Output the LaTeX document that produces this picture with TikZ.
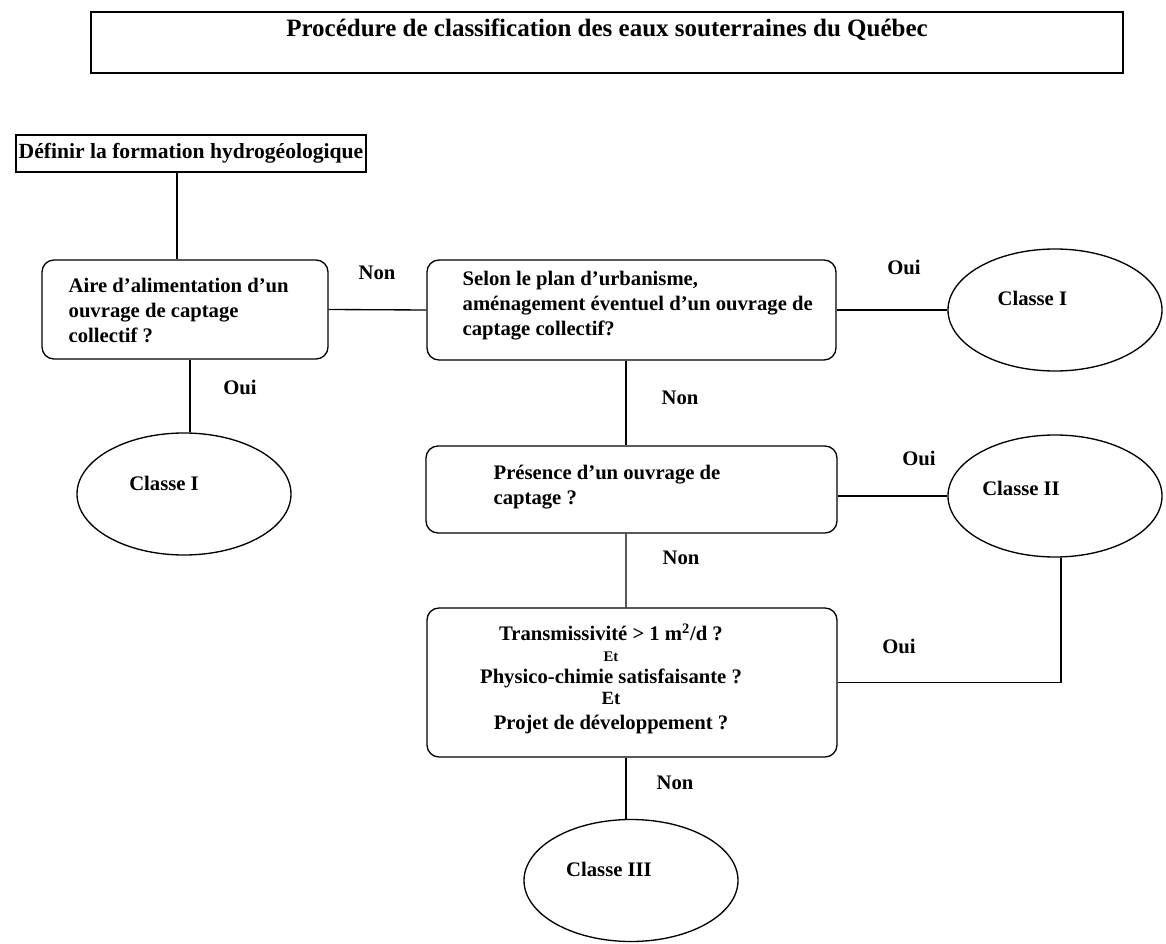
\documentclass[tikz,border=0pt]{standalone}
\usepackage{fontspec}
\setmainfont{Liberation Serif}
\usetikzlibrary{shapes.geometric}

\begin{document}
\begin{tikzpicture}[x=0.75pt, y=-0.75pt, line width=1pt,
  every node/.style={font=\fontsize{15.5}{18.75}\selectfont\bfseries},
  question/.style={draw, rounded corners=9pt, inner sep=0pt},
  classe/.style={draw, ellipse, inner sep=0pt, minimum width=160.5pt, minimum height=91.5pt},
  reponse/.style={inner sep=0pt}]
\useasboundingbox (0,0) rectangle (1166,944);

% Titre
\node[draw, line width=1.6pt, inner sep=0pt, minimum width=774pt, minimum height=45.75pt] (cadre) at (607,42.5) {};
\node[font=\fontsize{18.75}{22}\selectfont\bfseries] (titre) at (607,30) {Procédure de classification des eaux souterraines du Québec};

% Boites
\node[draw, inner sep=0pt, minimum width=262.5pt, minimum height=27.75pt, font=\fontsize{16.2}{19}\selectfont\bfseries] (definir) at (191,153.5) {Définir la formation hydrogéologique};

\node[question, minimum width=214.5pt, minimum height=74.25pt] (aire) at (185,309.5) {};
\node[anchor=west, align=left, inner sep=0pt] (airetxt) at (68,310) {Aire d’alimentation d’un\\ouvrage de captage\\collectif ?};

\node[question, minimum width=306.75pt, minimum height=75pt] (plan) at (631.5,310) {};
\node[anchor=west, align=left, inner sep=0pt] (plantxt) at (462,306) {Selon le plan d’urbanisme,\\aménagement éventuel d’un ouvrage de\\captage collectif?};

\node[question, minimum width=308.25pt, minimum height=65.25pt] (presence) at (631.5,489.5) {};
\node[anchor=west, align=left, inner sep=0pt] (presencetxt) at (493,487.5) {Présence d’un ouvrage de\\captage ?};

\node[question, minimum width=307.5pt, minimum height=111.75pt] (transmis) at (632,682.5) {};
\node[align=center, inner sep=0pt] (transmistxt) at (611,679) {Transmissivité > 1 m\textsuperscript{2}/d ?\\[-3pt]
  {\fontsize{11}{13}\selectfont Et}\\[-2pt]
  Physico-chimie satisfaisante ?\\[-3pt]
  {\fontsize{14}{16}\selectfont Et}\\[0pt]
  Projet de développement ?};

% Classes
\node[classe, label={[xshift=-15pt, yshift=8pt]center:Classe I}] (classeA) at (184,494) {};
\node[classe, label={[xshift=-17pt, yshift=9pt]center:Classe I}] (classeB) at (1055,310) {};
\node[classe, label={[xshift=-25.5pt, yshift=6pt]center:Classe II}] (classeII) at (1055,496) {};
\node[classe, label={[xshift=-16.5pt, yshift=8pt]center:Classe III}] (classeIII) at (631,880.5) {};

% Liens
\draw ([xshift=-10.5pt]definir.south) -- ([xshift=-6pt]aire.north);
\draw (aire.east) -- (plan.west);
\draw ([xshift=3.75pt]aire.south) -- ([xshift=4.5pt]classeA.north);
\draw (plan.east) -- (classeB.west);
\draw ([xshift=-4.1pt]plan.south) -- ([xshift=-4.1pt]presence.north);
\draw (classeII.west -| presence.east) -- (classeII.west);
\draw ([xshift=-4.1pt]presence.south) -- ([xshift=-4.5pt]transmis.north);
\draw ([xshift=4.5pt]classeII.south) |- (transmis.east);
\draw ([xshift=-4.5pt]transmis.south) -- ([xshift=-3.75pt]classeIII.north);

% Reponses
\node[reponse] (non1) at (377,273) {Non};
\node[reponse] (oui1) at (904,267) {Oui};
\node[reponse] (oui2) at (240,387) {Oui};
\node[reponse] (non2) at (680,398) {Non};
\node[reponse] (oui3) at (919,458) {Oui};
\node[reponse] (non3) at (681,558) {Non};
\node[reponse] (oui4) at (899,646) {Oui};
\node[reponse] (non4) at (675,783) {Non};

\end{tikzpicture}
\end{document}
